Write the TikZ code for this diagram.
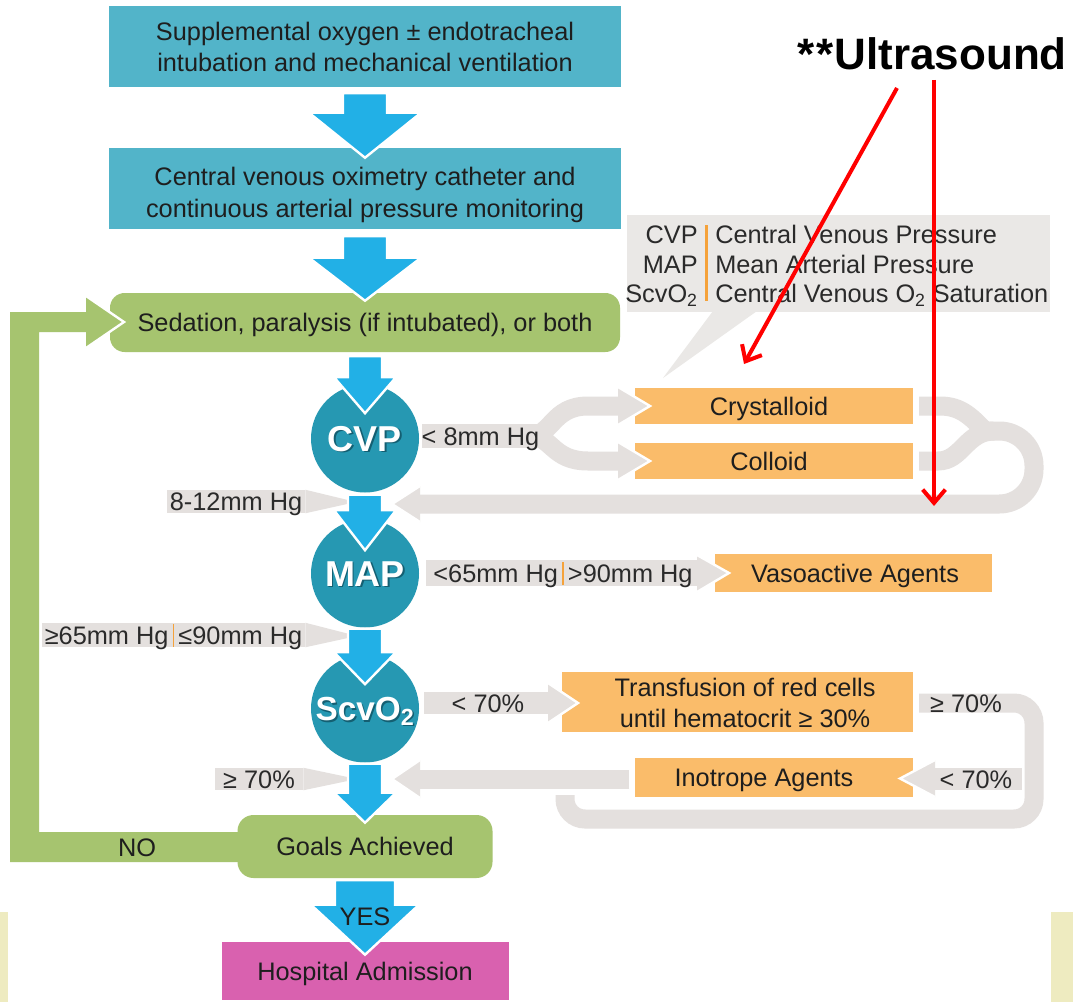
\documentclass[tikz,border=0pt]{standalone}
\usepackage{fontspec}
\setmainfont{Liberation Sans}
\usetikzlibrary{arrows.meta,calc}
\definecolor{boxteal}{HTML}{52B4C9}
\definecolor{circteal}{HTML}{2698B2}
\definecolor{arrblue}{HTML}{22B0E6}
\definecolor{grn}{HTML}{A6C46F}
\definecolor{org}{HTML}{FABC6A}
\definecolor{gry}{HTML}{E4E0DE}
\definecolor{legbg}{HTML}{EAE8E6}
\definecolor{mag}{HTML}{D961AF}
\definecolor{paley}{HTML}{EEEBC0}
\definecolor{sepc}{HTML}{F5A23A}
\definecolor{txt}{HTML}{1E1E1E}
\definecolor{lbltxt}{HTML}{2A2A2A}
\definecolor{shad}{HTML}{145F72}
\newcommand\msz{\fontsize{19pt}{23.5pt}\selectfont}
\newcommand\cvfont{\bfseries\fontsize{27pt}{30pt}\selectfont}
\newcommand\scfont{\bfseries\fontsize{25pt}{28pt}\selectfont}
\newcommand\sepbar{\hspace{0.16em}{\color{sepc}\rule[-0.1em]{1.4pt}{0.9em}}\hspace{0.16em}}
\newcommand\barrow[5]{\filldraw[barr] ($(#1)+(-#3,0)$) -- ($(#1)+(#3,0)$) -- ($(#2)+(#3,-#5)$) -- ($(#2)+(#4,-#5)$) -- (#2) -- ($(#2)+(-#4,-#5)$) -- ($(#2)+(-#3,-#5)$) -- cycle;}
\newcommand\ghead[3]{\fill[gry] (#1) -- (#2) -- (#3) -- cycle; \draw[white,line width=1.8pt,line join=miter] (#1) -- (#2) -- (#3);}
\begin{document}
\begin{tikzpicture}[x=0.75pt,y=-0.75pt,
  tbox/.style={fill=boxteal, inner sep=0pt, minimum width=384pt, minimum height=60.75pt},
  tboxtext/.style={font=\msz, text=txt, align=center, inner sep=0pt},
  gbox/.style={fill=grn, inner sep=0pt, font=\msz, text=txt, text height=13.6pt, text depth=0pt},
  obox/.style={fill=org, inner sep=0pt, minimum width=208.5pt},
  otext/.style={font=\msz, text=txt, inner sep=0pt, text height=13.6pt, text depth=0pt},
  circ/.style={circle, fill=circteal, minimum size=81pt, inner sep=0pt},
  ctxt/.style={text=white, inner sep=0pt, text height=19pt, text depth=0pt},
  cshad/.style={text=shad, inner sep=0pt, text height=19pt, text depth=0pt},
  glabel/.style={fill=gry, inner sep=0pt, font=\msz, text=lbltxt, text height=13.6pt, text depth=0pt},
  gband/.style={draw=gry, line width=14.25pt},
  barr/.style={fill=arrblue, draw=white, line width=1.8pt, line join=miter},
  redarr/.style={draw=red, line width=3pt, -{Straight Barb[length=10pt,width=17pt]}},
  legtext/.style={font=\msz, text=lbltxt, inner sep=0pt}
]
\useasboundingbox (0,0) rectangle (1073,1002);
\fill[white] (0,0) rectangle (1073,1002);
\fill[paley] (0,912) rectangle (8,1002);
\fill[paley] (1051,912) rectangle (1073,1002);

% legend
\node[fill=legbg, minimum width=317.25pt, minimum height=72.75pt, inner sep=0pt] (leg) at (838.5,263.5) {};
\fill[legbg] (713,311) -- (757,311) -- (663,378) -- cycle;
\fill[sepc] (705,225) rectangle (707.5,301);
\node[legtext, anchor=base east] (lg1a) at (698,243) {CVP};
\node[legtext, anchor=base east] (lg2a) at (698,273) {MAP};
\node[legtext, anchor=base east] (lg3a) at (698,302) {ScvO\textsubscript{2}};
\node[legtext, anchor=base west] (lg1b) at (715,243) {Central Venous Pressure};
\node[legtext, anchor=base west] (lg2b) at (715,273) {Mean Arterial Pressure};
\node[legtext, anchor=base west] (lg3b) at (715,302) {Central Venous O\textsubscript{2} Saturation};

% grey bands
\draw[gband] (530,436) .. controls (552,436) and (552,406) .. (588,406) -- (626,406);
\draw[gband] (530,436) .. controls (552,436) and (552,461) .. (588,461) -- (626,461);
\draw[gband] (919,406) -- (940,406) .. controls (962,406) and (972,418) .. (986,432);
\draw[gband] (919,461) -- (938,461) .. controls (962,461) and (966,431) .. (994,431);
\draw[gband, rounded corners=26pt] (985,431) -- (1034,431) -- (1034,504) -- (416,504);
\draw[gband, rounded corners=15pt] (919,703) -- (1034,703) -- (1034,819) -- (565,819) -- (565,795);
\draw[gband] (629,779) -- (416,779);

% grey labels
\node[glabel, minimum width=86.25pt, minimum height=18pt] (lcvp) at (480.5,436) {< 8mm Hg};
\node[glabel, minimum width=103.5pt, minimum height=17.25pt] (l812) at (236,501.5) {8-12mm Hg};
\node[glabel, minimum width=205.5pt, minimum height=19.5pt] (lmapr) at (563,573) {<65mm Hg\sepbar>90mm Hg};
\node[glabel, minimum width=197.25pt, minimum height=18pt] (lmapl) at (173.5,635) {≥65mm Hg\sepbar≤90mm Hg};
\node[glabel, minimum width=96pt, minimum height=16.5pt] (lscv) at (488,703) {< 70\%};
\node[otext, text=lbltxt] (lge70r) at (966,703) {≥ 70\%};
\node[glabel, minimum width=69pt, minimum height=16.5pt] (ll70r) at (976,779) {< 70\%};
\node[glabel, minimum width=66pt, minimum height=16.5pt] (lge70l) at (259,779) {≥ 70\%};

% pointers
\fill[gry] (l812.north east) -- (356,502) -- (l812.south east) -- cycle;
\fill[gry] (lmapl.north east) -- (357,636) -- (lmapl.south east) -- cycle;
\fill[gry] (lge70l.north east) -- (357,779) -- (lge70l.south east) -- cycle;

% main boxes
\node[tbox] (b1) at (365,46.5) {};
\node[tboxtext] (b1t) at (365,47) {Supplemental oxygen ± endotracheal\\intubation and mechanical ventilation};
\node[tbox] (b2) at (365,188.5) {};
\node[tboxtext] (b2t) at (365,195) {Central venous oximetry catheter and\\continuous arterial pressure monitoring};
\node[gbox, rounded corners=11pt, minimum width=382.5pt, minimum height=44.25pt] (sed) at (365,322.5) {Sedation, paralysis (if intubated), or both};

% green loop
\fill[grn] (86,296) -- (124,322) -- (86,348) -- cycle;
\draw[white,line width=1.8pt,line join=miter] (86,296) -- (124,322) -- (86,348);
\fill[grn] (10,862) -- (10,312) -- (90,312) -- (90,332) -- (39,332) -- (39,832) -- (240,832) -- (240,862) -- cycle;

\node[gbox, rounded corners=12pt, minimum width=191.25pt, minimum height=47.25pt] (goal) at (365,846.5) {Goals Achieved};
\node[fill=mag, inner sep=0pt, minimum width=215.25pt, minimum height=43.5pt, font=\msz, text=txt, text height=13.6pt, text depth=0pt] (hosp) at (365,971) {Hospital Admission};
\node[otext] (no) at (137,847) {NO};

% orange boxes
\node[obox, minimum height=27pt] (crys) at (774,406) {};
\node[obox, minimum height=27pt] (coll) at (774,461) {};
\node[obox, minimum width=207.75pt, minimum height=28.5pt] (vaso) at (853.5,573) {};
\node[obox, minimum width=263.25pt, minimum height=45pt] (tran) at (737.5,702) {};
\node[obox, minimum height=29.25pt] (inot) at (774,777.5) {};
\node[otext] (crystxt) at (769,406) {Crystalloid};
\node[otext] (colltxt) at (769,461) {Colloid};
\node[otext] (vasotxt) at (855,573) {Vasoactive Agents};
\node[tboxtext] (trantxt) at (745,703) {Transfusion of red cells\\until hematocrit ≥ 30\%};
\node[otext] (inottxt) at (764,777) {Inotrope Agents};

% circles
\node[circ] (cvp) at (365,438.5) {};
\node[circ] (map) at (365,573.5) {};
\node[circ] (scv) at (365,708.5) {};
\node[cshad, font=\cvfont] (cvps) at ($(cvp)+(1.5,1.5)$) {CVP};
\node[ctxt, font=\cvfont] (cvpt) at (cvp) {CVP};
\node[cshad, font=\cvfont] (maps) at ($(map)+(1.5,1.5)$) {MAP};
\node[ctxt, font=\cvfont] (mapt) at (map) {MAP};
\node[cshad, font=\scfont, text height=18pt] (scvs) at ($(scv)+(1.5,1.5)$) {ScvO\textsubscript{2}};
\node[ctxt, font=\scfont, text height=18pt] (scvt) at (scv) {ScvO\textsubscript{2}};

% grey arrow heads
\ghead{618,387}{650,406}{618,425}
\ghead{618,442}{650,461}{618,480}
\ghead{420,486}{392,504}{420,522}
\ghead{697,555}{729,573}{697,592}
\ghead{548,683}{578,703}{548,723}
\ghead{935,760}{900,778.5}{935,797}
\ghead{420,760}{392,779}{420,798}

% blue arrows
\coordinate (a1s) at ($(b1.south)+(0,6)$);
\coordinate (a1t) at ($(b2.north)+(0,10)$);
\barrow{a1s}{a1t}{22}{56}{45}
\coordinate (a2s) at ($(b2.south)+(0,7)$);
\coordinate (a2t) at ($(sed.north)+(0,8)$);
\barrow{a2s}{a2t}{22}{56}{43}
\coordinate (a3s) at ($(sed.south)+(0,4)$);
\coordinate (a3t) at ($(cvp.north)+(0,29)$);
\barrow{a3s}{a3t}{17}{31}{36}
\coordinate (a4s) at ($(cvp.south)+(0,2)$);
\coordinate (a4t) at ($(map.north)+(0,31)$);
\barrow{a4s}{a4t}{17}{31}{40}
\coordinate (a5s) at ($(map.south)+(0,1)$);
\coordinate (a5t) at ($(scv.north)+(0,30)$);
\barrow{a5s}{a5t}{17}{31}{32}
\coordinate (a6s) at ($(scv.south)+(0,1)$);
\coordinate (a6t) at ($(goal.north)+(0,8)$);
\barrow{a6s}{a6t}{17}{31}{30}
\coordinate (a7s) at ($(goal.south)+(0,2)$);
\coordinate (a7t) at ($(hosp.north)+(0,13)$);
\barrow{a7s}{a7t}{30}{54}{50}
\node[otext] (yes) at (365,916) {YES};

% ultrasound annotation
\node[inner sep=0pt, font=\bfseries\fontsize{33pt}{36pt}\selectfont, text height=23.6pt, text depth=0pt] (us) at (932,54) {*\kern1.5pt*\kern1pt Ultrasound};
\coordinate (r1s) at (897,88);
\coordinate (r1e) at (744,364);
\coordinate (r2s) at (934,80);
\coordinate (r2e) at (934,506);
\draw[redarr] (r1s) -- (r1e);
\draw[redarr] (r2s) -- (r2e);
\end{tikzpicture}
\end{document}
